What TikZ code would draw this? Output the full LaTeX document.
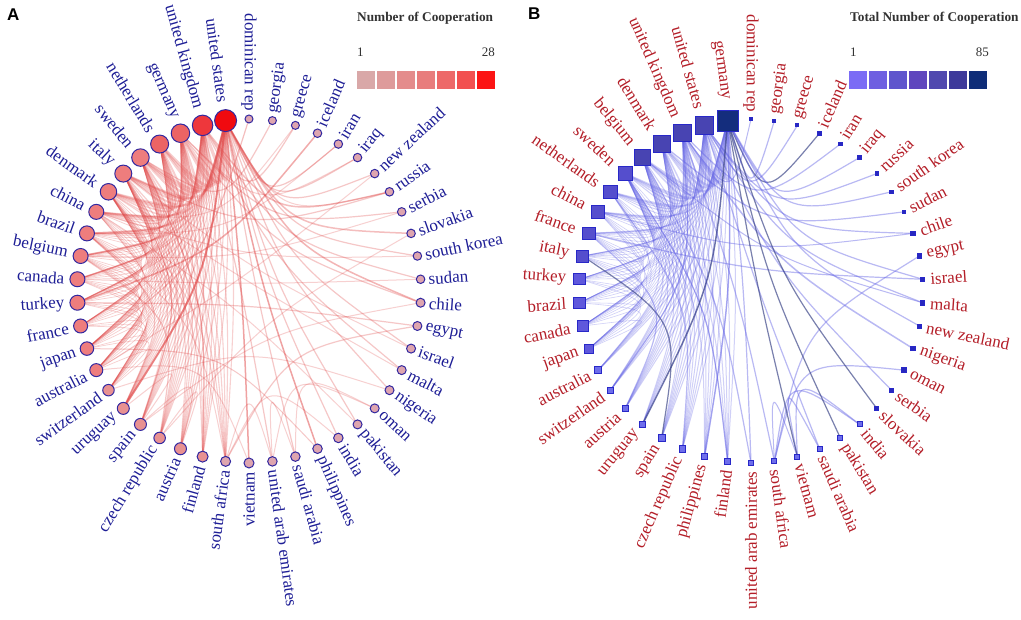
\documentclass[tikz,border=0pt]{standalone}
\usepackage{fontspec}
\setmainfont{Liberation Serif}
\newfontfamily\sansf{Liberation Sans}
\usetikzlibrary{calc}
\pgfdeclarelayer{bg}
\pgfdeclarelayer{edgelayer}
\pgfsetlayers{bg,edgelayer,main}
\definecolor{aR1}{RGB}{240,10,15}
\definecolor{aR2}{RGB}{238,55,60}
\definecolor{aR3}{RGB}{236,100,100}
\definecolor{aR4}{RGB}{238,125,125}
\definecolor{aR5}{RGB}{232,145,145}
\definecolor{aS}{RGB}{222,165,175}
\definecolor{aBorder}{RGB}{50,40,160}
\definecolor{aLab}{RGB}{30,30,150}
\definecolor{aEdge}{RGB}{225,70,70}
\definecolor{bN}{RGB}{20,45,125}
\definecolor{bB1}{RGB}{72,68,178}
\definecolor{bB2}{RGB}{85,78,205}
\definecolor{bB3}{RGB}{95,88,220}
\definecolor{bB4}{RGB}{110,110,235}
\definecolor{bS}{RGB}{40,40,190}
\definecolor{bBorder}{RGB}{40,40,200}
\definecolor{bLab}{RGB}{180,30,40}
\definecolor{bEdge}{RGB}{100,100,230}
\definecolor{bDark}{RGB}{50,60,130}
\definecolor{legT}{RGB}{50,50,50}
\definecolor{la1}{RGB}{217,168,168}
\definecolor{la2}{RGB}{222,155,155}
\definecolor{la3}{RGB}{228,140,140}
\definecolor{la4}{RGB}{232,125,125}
\definecolor{la5}{RGB}{237,105,105}
\definecolor{la6}{RGB}{242,80,80}
\definecolor{la7}{RGB}{252,20,20}
\definecolor{lb1}{RGB}{123,108,245}
\definecolor{lb2}{RGB}{110,95,225}
\definecolor{lb3}{RGB}{95,85,205}
\definecolor{lb4}{RGB}{95,70,190}
\definecolor{lb5}{RGB}{80,72,175}
\definecolor{lb6}{RGB}{62,58,155}
\definecolor{lb7}{RGB}{15,45,120}
\tikzset{
 anode/.style={circle, draw=aBorder, line width=1pt, inner sep=0pt},
 bnode/.style={rectangle, draw=bBorder, line width=0.9pt, inner sep=0pt},
 alab/.style={text=aLab, inner sep=0pt, font=\fontsize{17}{17}\selectfont},
 blab/.style={text=bLab, inner sep=0pt, font=\fontsize{17}{17}\selectfont},
 aedge/.style={draw=aEdge, line cap=round},
 bedge/.style={draw=bEdge, line cap=round, draw opacity=0.45},
 bdark/.style={draw=bDark, line cap=round, draw opacity=0.65},
 legsq/.style={rectangle, minimum size=18pt, inner sep=0pt},
 legtitle/.style={text=legT, font=\bfseries\fontsize{13.3}{15}\selectfont, inner sep=0pt},
 legnum/.style={text=legT, font=\fontsize{13}{15}\selectfont, inner sep=0pt},
 panel/.style={font=\sansf\bfseries\fontsize{17}{17}\selectfont, inner sep=0pt},
}
\newcommand\pullk{0.45}
\begin{document}
\begin{tikzpicture}[x=1pt,y=1pt]
\useasboundingbox (0,0) rectangle (1021,620);
\begin{pgfonlayer}{bg}
\fill[white] (0,0) rectangle (1021,620);
\end{pgfonlayer}
\coordinate (cA) at (249,329);
\coordinate (cB) at (751,329);

% ---------------- Panel A nodes ----------------
\foreach \i/\lab/\d/\col in {0/dominican rep/8/aS, 1/united states/22/aR1, 2/united kingdom/20.5/aR2, 3/germany/18.5/aR3, 4/netherlands/18/aR3, 5/sweden/17.5/aR4, 6/italy/17/aR4, 7/denmark/16.5/aR4, 8/china/15/aR4, 9/brazil/15/aR4, 10/belgium/15/aR4, 11/canada/15/aR4, 12/turkey/15/aR4, 13/france/14/aR4, 14/japan/13.5/aR4, 15/australia/13/aR4, 16/switzerland/11.5/aR5, 17/uruguay/12/aR5, 18/spain/12/aR5, 19/czech republic/11.5/aR5, 20/austria/12/aR5, 21/finland/11/aR5, 22/south africa/10/aS, 23/vietnam/10/aS, 24/united arab emirates/9.5/aS, 25/saudi arabia/9.5/aS, 26/philippines/9.5/aS, 27/india/9.5/aS, 28/pakistan/9/aS, 29/oman/9/aS, 30/nigeria/9/aS, 31/malta/9/aS, 32/israel/9/aS, 33/egypt/9/aS, 34/chile/9/aS, 35/sudan/8.5/aS, 36/south korea/8.5/aS, 37/slovakia/8.5/aS, 38/serbia/8.5/aS, 39/russia/8.5/aS, 40/new zealand/8.5/aS, 41/iraq/8.5/aS, 42/iran/8.5/aS, 43/iceland/8.5/aS, 44/greece/8/aS, 45/georgia/8/aS} {
  \pgfmathsetmacro\ang{90+\i*360/46}
  \pgfmathsetmacro\dist{172+0.8*\d+1}
  \node[anode, minimum size=\d pt, fill=\col] (A\i) at ($(cA)+(\ang:172)$) {};
  \pgfmathtruncatemacro\lft{and(\ang>89.9,\ang<270.1)}
  \ifnum\lft=1
    \pgfmathsetmacro\rot{\ang-180}
    \node[alab, anchor=east, rotate=\rot] (LA\i) at ($(cA)+(\ang:\dist)$) {\lab};
  \else
    \node[alab, anchor=west, rotate=\ang] (LA\i) at ($(cA)+(\ang:\dist)$) {\lab};
  \fi
}

% ---------------- Panel B nodes ----------------
\foreach \i/\lab/\d/\col in {0/dominican rep/3/bS, 1/germany/21/bN, 2/united states/17.5/bB1, 3/united kingdom/17.3/bB1, 4/denmark/17/bB1, 5/belgium/16.5/bB1, 6/sweden/14.7/bB2, 7/netherlands/13.3/bB2, 8/china/13/bB2, 9/france/12.3/bB2, 10/italy/12/bB2, 11/turkey/11.3/bB3, 12/brazil/11.3/bB3, 13/canada/10.7/bB3, 14/japan/9/bB3, 15/australia/7/bB4, 16/switzerland/6.3/bB4, 17/austria/6.7/bB4, 18/uruguay/6/bB4, 19/spain/6.7/bB4, 20/czech republic/6.7/bB4, 21/philippines/5.7/bB4, 22/finland/5.7/bB4, 23/united arab emirates/5.3/bB4, 24/south africa/5/bB4, 25/vietnam/5/bB4, 26/saudi arabia/5/bB4, 27/pakistan/5/bB4, 28/india/5/bB4, 29/slovakia/4/bS, 30/serbia/4/bS, 31/oman/4.5/bS, 32/nigeria/4.5/bS, 33/new zealand/4/bS, 34/malta/4.5/bS, 35/israel/4.5/bS, 36/egypt/4.5/bS, 37/chile/4.5/bS, 38/sudan/3.5/bS, 39/south korea/3.5/bS, 40/russia/3.5/bS, 41/iraq/3.5/bS, 42/iran/3.5/bS, 43/iceland/3.5/bS, 44/greece/3/bS, 45/georgia/3/bS} {
  \pgfmathsetmacro\ang{90+\i*360/46}
  \pgfmathsetmacro\dist{172+0.8*\d+4}
  \node[bnode, minimum size=\d pt, fill=\col] (B\i) at ($(cB)+(\ang:172)$) {};
  \pgfmathtruncatemacro\lft{and(\ang>89.9,\ang<270.1)}
  \ifnum\lft=1
    \pgfmathsetmacro\rot{\ang-180}
    \node[blab, anchor=east, rotate=\rot] (LB\i) at ($(cB)+(\ang:\dist)$) {\lab};
  \else
    \node[blab, anchor=west, rotate=\ang] (LB\i) at ($(cB)+(\ang:\dist)$) {\lab};
  \fi
}

% ---------------- Edges ----------------
\begin{pgfonlayer}{edgelayer}
% panel A hub mesh
\foreach \a in {1,...,15}{
  \pgfmathtruncatemacro\nx{\a+1}
  \foreach \b in {\nx,...,16}{
    \pgfmathsetmacro\w{max(0.7,3.8-0.2*(\a+\b))}
    \draw[aedge, line width=\w pt, draw opacity=0.26] (A\a.center) .. controls ($(A\a.center)!0.5!(A\b.center)!\pullk!(cA)$) .. (A\b.center);
  }
}
\foreach \a in {1,...,7}{
  \foreach \b in {17,...,22}{
    \draw[aedge, line width=1.1pt, draw opacity=0.25] (A\a.center) .. controls ($(A\a.center)!0.5!(A\b.center)!\pullk!(cA)$) .. (A\b.center);
  }
}
\foreach \a/\b/\w/\o in {0/14/1.2/0.35, 45/5/1.2/0.3, 44/2/1.2/0.3, 44/8/1/0.25, 43/12/1.5/0.45, 42/1/1.2/0.3, 42/9/1/0.25, 41/1/1.2/0.3, 41/3/1/0.25, 40/1/1.2/0.3, 40/15/1/0.25, 39/2/1.5/0.35, 39/6/1.2/0.3, 39/1/1/0.25, 38/3/1.2/0.3, 38/10/1/0.25, 37/1/1.5/0.35, 37/19/1/0.25, 36/1/1.2/0.3, 36/8/1/0.25, 35/2/1.2/0.3, 35/11/1/0.25, 34/1/1.5/0.4, 34/3/1.2/0.3, 34/18/1/0.25, 33/22/1.2/0.3, 33/12/1.2/0.3, 32/1/1.2/0.3, 32/6/1/0.25, 31/2/1.2/0.3, 31/7/1/0.25, 30/1/1.2/0.3, 30/16/1/0.25, 29/24/1/0.25, 29/25/1/0.25, 28/1/1.2/0.3, 28/8/1/0.25, 27/1/1.2/0.3, 27/22/1/0.25, 26/1/1.5/0.5, 26/14/1/0.3, 25/1/1.2/0.3, 25/24/1/0.25, 24/2/1.2/0.3, 24/22/1/0.25, 23/1/1.5/0.5, 23/15/1/0.25, 22/9/1/0.25, 21/5/1.2/0.3, 20/18/1/0.25, 19/10/1.2/0.3, 19/20/1/0.25, 18/6/1.2/0.3, 18/17/1/0.25, 17/9/1.2/0.3, 17/1/2/0.6} {
  \draw[aedge, line width=\w pt, draw opacity=\o] (A\a.center) .. controls ($(A\a.center)!0.5!(A\b.center)!\pullk!(cA)$) .. (A\b.center);
}
% panel B hub mesh
\foreach \a in {1,...,13}{
  \pgfmathtruncatemacro\nx{\a+1}
  \foreach \b in {\nx,...,14}{
    \pgfmathsetmacro\w{max(0.6,3.2-0.2*(\a+\b))}
    \draw[bedge, line width=\w pt, draw opacity=0.3] (B\a.center) .. controls ($(B\a.center)!0.5!(B\b.center)!\pullk!(cB)$) .. (B\b.center);
  }
}
\foreach \a in {1,...,6}{
  \foreach \b in {15,...,22}{
    \draw[bedge, line width=1pt, draw opacity=0.3] (B\a.center) .. controls ($(B\a.center)!0.5!(B\b.center)!\pullk!(cB)$) .. (B\b.center);
  }
}
\foreach \a/\b/\w/\st in {0/3/1/bedge, 45/1/1.2/bedge, 44/2/1.2/bedge, 43/1/1.2/bdark, 42/3/1.2/bedge, 41/1/1.2/bedge, 40/2/1.2/bedge, 39/1/1.2/bedge, 38/4/1.2/bedge, 37/2/1.2/bedge, 37/8/1/bedge, 36/24/1.2/bedge, 35/1/1.2/bedge, 35/9/1.2/bedge, 34/2/1.2/bedge, 34/5/1/bedge, 33/1/1.2/bedge, 32/3/1.5/bedge, 31/24/1.2/bedge, 30/2/1.2/bedge, 29/1/1.2/bdark, 28/24/1.2/bedge, 28/25/1.2/bedge, 27/1/1.2/bdark, 26/25/1.2/bedge, 26/2/1.2/bedge, 25/24/1/bedge, 25/1/1.2/bdark, 24/3/1.2/bedge, 23/5/1.2/bedge, 23/1/1.2/bedge, 22/6/1.2/bedge, 21/1/1.5/bedge, 20/7/1.2/bedge, 19/10/1.2/bdark, 18/1/1.5/bdark, 17/9/1.2/bedge, 16/3/1.2/bedge} {
  \draw[\st, line width=\w pt] (B\a.center) .. controls ($(B\a.center)!0.5!(B\b.center)!\pullk!(cB)$) .. (B\b.center);
}
\end{pgfonlayer}

% ---------------- Legends ----------------
\node[panel, anchor=west] (PA) at (7,605) {A};
\node[panel, anchor=west] (PB) at (528,606) {B};

\node[legtitle, anchor=west] (TA) at (357,602) {Number of Cooperation};
\node[legnum, anchor=west] (NA1) at (357,568) {1};
\node[legnum, anchor=east] (NA2) at (495,568) {28};
\foreach \k/\c in {0/la1,1/la2,2/la3,3/la4,4/la5,5/la6,6/la7}{
  \node[legsq, fill=\c] (SA\k) at (366+20*\k,540) {};
}
\node[legtitle, anchor=west] (TB) at (850,602) {Total Number of Cooperation};
\node[legnum, anchor=west] (NB1) at (850,568) {1};
\node[legnum, anchor=east] (NB2) at (989,568) {85};
\foreach \k/\c in {0/lb1,1/lb2,2/lb3,3/lb4,4/lb5,5/lb6,6/lb7}{
  \node[legsq, fill=\c] (SB\k) at (858+20*\k,540) {};
}
\end{tikzpicture}
\end{document}
